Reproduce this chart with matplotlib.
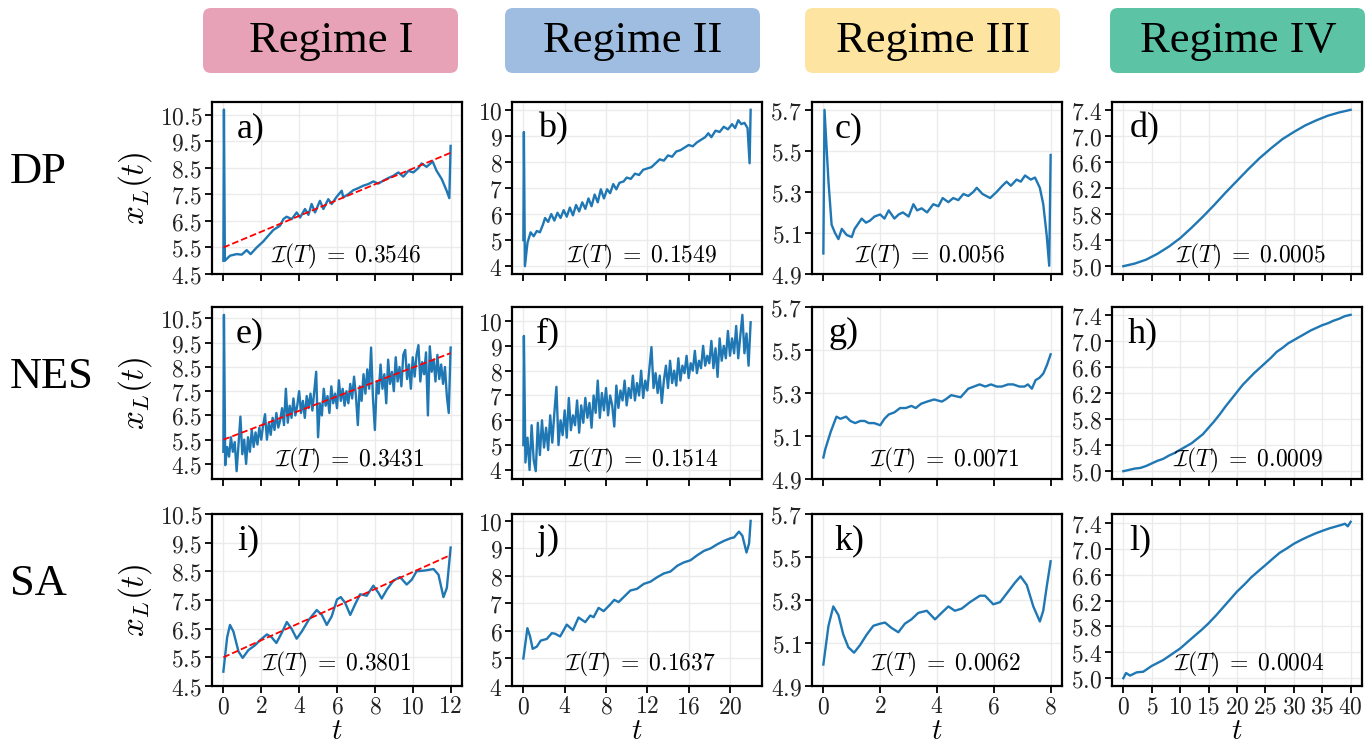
import matplotlib.pyplot as plt
import numpy as np
from matplotlib.patches import FancyBboxPatch
from matplotlib.ticker import FuncFormatter

plt.rcParams['mathtext.fontset'] = 'cm'

# ---- labels ----
regimes = ['Regime I', 'Regime II', 'Regime III', 'Regime IV']
regime_colors = ['#e8a2b8', '#9fbde0', '#fde4a0', '#5cc4a4']
methods = ['DP', 'NES', 'SA']
letters = [['a)', 'b)', 'c)', 'd)'], ['e)', 'f)', 'g)', 'h)'], ['i)', 'j)', 'k)', 'l)']]
scores = [['0.3546', '0.1549', '0.0056', '0.0005'],
          ['0.3431', '0.1514', '0.0071', '0.0009'],
          ['0.3801', '0.1637', '0.0062', '0.0004']]

col_xticks = [[0, 2, 4, 6, 8, 10, 12], [0, 4, 8, 12, 16, 20], [0, 2, 4, 6, 8],
              [0, 5, 10, 15, 20, 25, 30, 35, 40]]
col_yticks = [[4.5, 5.5, 6.5, 7.5, 8.5, 9.5, 10.5], [4, 5, 6, 7, 8, 9, 10],
              [4.9, 5.1, 5.3, 5.5, 5.7], [5.0, 5.4, 5.8, 6.2, 6.6, 7.0, 7.4]]
col_yfmt = ['{:.1f}', '{:.0f}', '{:.1f}', '{:.1f}']

# linear fit shown in regime I (intercept, slope)
fit_intercept = 5.5
fit_slope = 0.2975

# ---- DP ----
a_t = [0, 0.03, 0.08, 0.35, 0.7, 0.97, 1.23, 1.44, 1.76, 2.11, 2.29, 2.64, 2.99,
       3.17, 3.34, 3.61, 3.87, 4.05, 4.31, 4.49, 4.66, 4.84, 5.1, 5.28, 5.54, 5.72,
       5.98, 6.25, 6.33, 6.6, 6.86, 7.13, 7.39, 7.65, 7.92, 8.18, 8.45, 8.71, 8.97,
       9.24, 9.5, 9.77, 10.03, 10.29, 10.47, 10.73, 11.05, 11.26, 11.53, 11.79, 11.93, 12.0]
a_x = [5.0, 10.7, 5.0, 5.19, 5.25, 5.23, 5.4, 5.25, 5.5, 5.73, 5.88, 6.16, 6.32,
       6.57, 6.66, 6.57, 6.82, 6.63, 6.95, 6.73, 7.14, 6.82, 7.26, 6.95, 7.32, 7.14,
       7.41, 7.64, 7.39, 7.51, 7.66, 7.74, 7.83, 7.89, 7.99, 7.91, 8.02, 8.12, 8.2,
       8.33, 8.17, 8.39, 8.33, 8.49, 8.67, 8.54, 8.74, 8.39, 8.08, 7.64, 7.36, 9.33]

b_t = [0, 0.05, 0.15, 0.4, 0.7, 1.0, 1.3, 1.6, 1.9, 2.1, 2.4, 2.7, 3.0, 3.3, 3.6, 3.9,
       4.2, 4.5, 4.8, 5.1, 5.4, 5.7, 6.0, 6.3, 6.6, 6.9, 7.2, 7.5, 7.8, 8.1, 8.4, 8.7,
       9.0, 9.3, 9.7, 10.0, 10.4, 10.8, 11.2, 11.6, 12.0, 12.4, 12.8, 13.2, 13.6, 14.0,
       14.4, 14.8, 15.2, 15.6, 16.0, 16.4, 16.8, 17.2, 17.6, 17.9, 18.2, 18.6, 19.0,
       19.4, 19.8, 20.2, 20.5, 20.8, 21.1, 21.4, 21.7, 21.9, 22.0]
b_x = [5.0, 9.15, 4.0, 4.9, 5.3, 5.15, 5.35, 5.3, 5.6, 5.85, 5.7, 6.0, 5.75, 6.05, 5.85,
       6.15, 5.9, 6.25, 5.95, 6.35, 6.1, 6.45, 6.2, 6.6, 6.3, 6.75, 6.45, 6.95, 6.6, 6.95,
       6.8, 7.15, 6.95, 7.2, 7.25, 7.4, 7.35, 7.55, 7.5, 7.7, 7.75, 7.8, 7.95, 8.1, 8.05,
       8.25, 8.2, 8.4, 8.45, 8.55, 8.65, 8.6, 8.75, 8.85, 8.95, 9.1, 8.95, 9.2, 9.15,
       9.35, 9.25, 9.45, 9.3, 9.6, 9.45, 9.5, 9.3, 7.95, 10.0]

c_t = [0, 0.04, 0.18, 0.29, 0.41, 0.53, 0.65, 0.82, 1.0, 1.1, 1.35, 1.5, 1.64, 1.8, 2.0,
       2.15, 2.3, 2.5, 2.65, 2.8, 3.0, 3.17, 3.3, 3.46, 3.65, 3.87, 4.05, 4.2, 4.4, 4.57,
       4.75, 4.93, 5.1, 5.28, 5.4, 5.6, 5.87, 6.1, 6.3, 6.45, 6.6, 6.8, 6.95, 7.1, 7.3,
       7.45, 7.62, 7.74, 7.86, 7.95, 8.0]
c_x = [5.0, 5.7, 5.35, 5.14, 5.1, 5.07, 5.12, 5.09, 5.08, 5.12, 5.17, 5.15, 5.16, 5.18,
       5.19, 5.17, 5.21, 5.17, 5.19, 5.2, 5.18, 5.24, 5.21, 5.22, 5.2, 5.24, 5.23, 5.27,
       5.25, 5.27, 5.26, 5.29, 5.28, 5.3, 5.32, 5.29, 5.27, 5.3, 5.33, 5.35, 5.33, 5.36,
       5.35, 5.38, 5.36, 5.37, 5.32, 5.24, 5.09, 4.94, 5.48]

d_t = [0, 2, 4, 6, 8, 10, 12, 14, 16, 18, 20, 22, 24, 26, 28, 30, 32, 34, 36, 38, 40]
d_x = [5.0, 5.04, 5.1, 5.19, 5.3, 5.43, 5.59, 5.76, 5.94, 6.13, 6.31, 6.49, 6.66,
       6.81, 6.95, 7.06, 7.16, 7.24, 7.31, 7.36, 7.4]

# ---- NES ----
e_head_t = [0.0, 0.03]
e_head_x = [5.0, 10.65]
e_x = [4.45, 5.2, 4.8, 5.6, 5.0, 5.4, 4.2, 5.3, 6.45, 4.9,
       5.5, 4.5, 5.6, 5.0, 5.9, 5.2, 5.8, 5.3, 6.0, 5.5,
       6.1, 6.55, 5.5, 6.2, 5.7, 6.4, 5.9, 6.6, 6.0, 6.3,
       6.8, 6.1, 7.6, 6.2, 6.9, 6.4, 7.2, 6.5, 6.9, 7.5,
       6.6, 7.1, 6.4, 7.3, 6.8, 7.4, 6.7, 7.5, 8.3, 5.6,
       7.0, 6.5, 7.6, 6.9, 7.3, 6.6, 7.7, 7.0, 7.4, 6.8,
       7.95, 7.1, 7.6, 6.9, 7.5, 7.0, 7.8, 7.2, 8.1, 7.3,
       6.1, 7.7, 7.1, 8.2, 7.4, 8.4, 7.6, 9.3, 7.2, 5.9,
       7.9, 7.4, 8.6, 7.6, 8.2, 7.0, 8.8, 7.8, 8.3, 7.5,
       8.9, 7.9, 8.5, 7.7, 9.0, 9.2, 8.0, 8.6, 7.6, 8.9,
       8.1, 9.0, 9.4, 7.9, 8.7, 8.2, 9.1, 6.5, 9.35, 8.3,
       8.8, 7.9, 9.0, 8.0, 8.6, 7.8, 8.5, 7.3, 6.6, 9.3]
e_t = np.concatenate([e_head_t, np.linspace(0.1, 12.0, len(e_x))])
e_x = e_head_x + e_x

f_head_t = [0.0, 0.05]
f_head_x = [5.0, 9.4]
f_x = [4.3, 5.3, 4.0, 5.8, 4.4, 3.95, 5.9, 4.6, 6.0, 4.9,
       5.7, 4.8, 6.2, 5.1, 6.3, 7.35, 5.0, 6.0, 5.4, 6.4,
       5.3, 6.9, 5.6, 6.2, 5.8, 6.8, 5.5, 6.6, 5.9, 6.9,
       6.1, 6.7, 5.7, 7.0, 6.3, 7.6, 6.1, 7.1, 6.4, 7.3,
       6.2, 7.0, 6.6, 5.75, 7.4, 6.5, 7.2, 6.8, 7.6, 6.6,
       7.3, 6.9, 7.8, 6.8, 7.5, 7.0, 8.0, 6.9, 7.6, 7.2,
       8.1, 8.95, 7.3, 7.9, 7.1, 7.8, 6.7, 7.6, 8.2, 7.3,
       8.4, 7.5, 8.0, 7.4, 8.5, 7.6, 8.2, 7.9, 8.6, 7.7,
       8.3, 8.0, 8.8, 7.9, 8.4, 8.1, 9.0, 8.2, 8.6, 8.3,
       9.2, 8.1, 8.9, 7.75, 9.3, 8.4, 9.0, 8.5, 9.6, 8.6,
       9.3, 8.7, 9.8, 8.5, 9.4, 10.25, 8.7, 9.5, 8.2, 9.95]
f_t = np.concatenate([f_head_t, np.linspace(0.2, 22.0, len(f_x))])
f_x = f_head_x + f_x

g_t = [0, 0.07, 0.26, 0.46, 0.6, 0.8, 0.95, 1.12, 1.3, 1.45, 1.6, 1.79, 2.0, 2.15, 2.3,
       2.5, 2.7, 2.9, 3.1, 3.25, 3.44, 3.65, 3.9, 4.17, 4.3, 4.5, 4.83, 5.1, 5.3, 5.5,
       5.7, 5.9, 6.1, 6.28, 6.5, 6.68, 6.9, 7.08, 7.2, 7.34, 7.47, 7.6, 7.74, 7.87, 8.0]
g_x = [5.0, 5.04, 5.12, 5.19, 5.18, 5.19, 5.17, 5.16, 5.17, 5.17, 5.16, 5.16, 5.15,
       5.18, 5.2, 5.21, 5.23, 5.23, 5.24, 5.23, 5.25, 5.26, 5.27, 5.26, 5.27, 5.29,
       5.28, 5.32, 5.33, 5.34, 5.33, 5.34, 5.33, 5.33, 5.34, 5.34, 5.33, 5.33, 5.34,
       5.32, 5.36, 5.37, 5.39, 5.43, 5.48]

h_t = list(range(41))
h_x = [5.0, 5.02, 5.04, 5.05, 5.08, 5.12, 5.16, 5.19, 5.24, 5.28, 5.33, 5.38, 5.43,
       5.5, 5.57, 5.67, 5.77, 5.88, 6.0, 6.11, 6.22, 6.33, 6.42, 6.51, 6.59, 6.67,
       6.75, 6.84, 6.9, 6.97, 7.02, 7.07, 7.12, 7.17, 7.21, 7.25, 7.28, 7.32, 7.35,
       7.39, 7.41]

# ---- SA ----
i_t = [0, 0.2, 0.35, 0.53, 0.8, 1.02, 1.32, 1.67, 1.94, 2.3, 2.55, 2.8, 3.08, 3.35,
       3.6, 3.87, 4.14, 4.5, 4.93, 5.2, 5.46, 5.72, 6.0, 6.2, 6.43, 6.7, 6.95, 7.22,
       7.57, 7.92, 8.19, 8.36, 8.63, 8.98, 9.33, 9.68, 9.95, 10.2, 10.65, 11.1, 11.36,
       11.62, 11.8, 12.0]
i_x = [5.0, 6.2, 6.63, 6.4, 5.7, 5.48, 5.75, 5.92, 6.1, 6.3, 6.2, 6.0, 6.35, 6.73,
       6.5, 6.15, 6.4, 6.8, 7.15, 6.98, 6.63, 6.93, 7.52, 7.6, 7.4, 6.98, 7.34, 7.7,
       7.65, 8.0, 7.75, 7.55, 7.86, 8.18, 8.3, 8.04, 8.21, 8.5, 8.53, 8.58, 8.38, 7.6,
       7.92, 9.33]

j_t = [0, 0.39, 0.65, 0.9, 1.3, 1.68, 2.27, 2.75, 3.07, 3.56, 4.2, 4.8, 5.34, 5.99,
       6.47, 6.8, 7.28, 7.77, 8.4, 8.8, 9.22, 9.87, 10.36, 11.0, 11.65, 12.3, 12.94,
       13.6, 14.24, 14.9, 15.53, 16.18, 16.83, 17.48, 18.12, 18.77, 19.4, 20.06, 20.4,
       20.87, 21.2, 21.6, 21.85, 22.0]
j_x = [5.0, 6.1, 5.8, 5.35, 5.43, 5.65, 5.71, 5.92, 5.9, 5.8, 6.23, 6.03, 6.49, 6.32,
       6.56, 6.5, 6.84, 6.72, 6.96, 7.13, 7.05, 7.29, 7.47, 7.53, 7.71, 7.79, 7.95,
       8.09, 8.16, 8.37, 8.49, 8.57, 8.75, 8.91, 9.0, 9.15, 9.27, 9.37, 9.4, 9.61,
       9.46, 8.85, 9.18, 10.0]

k_t = [0, 0.18, 0.35, 0.53, 0.7, 0.88, 1.08, 1.29, 1.53, 1.76, 2.0, 2.17, 2.4, 2.64,
       2.87, 3.1, 3.34, 3.64, 3.93, 4.16, 4.4, 4.63, 4.87, 5.16, 5.51, 5.69, 5.98,
       6.22, 6.51, 6.74, 6.94, 7.16, 7.39, 7.62, 7.74, 7.86, 8.0]
k_x = [5.0, 5.18, 5.27, 5.23, 5.14, 5.08, 5.055, 5.09, 5.14, 5.18, 5.19, 5.195, 5.17,
       5.15, 5.19, 5.21, 5.24, 5.25, 5.21, 5.24, 5.27, 5.25, 5.26, 5.29, 5.32, 5.32,
       5.28, 5.29, 5.34, 5.38, 5.41, 5.37, 5.27, 5.2, 5.25, 5.36, 5.48]

l_t = [0, 0.47, 1.17, 2.34, 3.5, 5, 7, 8.5, 10, 11.3, 12.6, 13.8, 15, 16.3, 17.6, 18.8,
       20, 21.3, 22.5, 23.8, 25, 26.3, 27.5, 28.8, 30, 31.3, 32.5, 33.8, 35, 36.3, 37.5,
       38.3, 39, 39.5, 40]
l_x = [5.0, 5.08, 5.04, 5.09, 5.1, 5.19, 5.28, 5.37, 5.46, 5.56, 5.66, 5.75, 5.85,
       5.97, 6.1, 6.22, 6.34, 6.45, 6.56, 6.66, 6.75, 6.85, 6.94, 7.01, 7.08, 7.14,
       7.19, 7.24, 7.28, 7.32, 7.35, 7.37, 7.39, 7.35, 7.42]

series = [[(a_t, a_x), (b_t, b_x), (c_t, c_x), (d_t, d_x)],
          [(e_t, e_x), (f_t, f_x), (g_t, g_x), (h_t, h_x)],
          [(i_t, i_x), (j_t, j_x), (k_t, k_x), (l_t, l_x)]]

# layout in pixels (figure is 1372 x 746)
W, H = 1372, 746
col_left = [212, 512, 812, 1112]
row_top = [102, 307, 514]
ax_w, ax_h = 250, 172
# annotation x-position (axes fraction) and y
score_x = [[0.536, 0.52, 0.472, 0.556], [0.552, 0.524, 0.532, 0.544], [0.5, 0.512, 0.536, 0.548]]
score_y = [0.1, 0.105, 0.128]
letter_x = [[0.1, 0.105, 0.09, 0.07], [0.096, 0.096, 0.064, 0.064], [0.1, 0.1, 0.09, 0.07]]

fig = plt.figure(figsize=(13.72, 7.46), dpi=100)

# background layer in pixel units for header boxes and row names
bg = fig.add_axes([0, 0, 1, 1])
bg.set_xlim(0, W)
bg.set_ylim(H, 0)
bg.axis('off')
box_left = [203, 505, 805, 1110]
for k in range(4):
    bg.add_patch(FancyBboxPatch((box_left[k], 8), 255, 65,
                                boxstyle='round,pad=0,rounding_size=8',
                                fc=regime_colors[k], ec='none'))
    bg.text(box_left[k] + 128, 41, regimes[k], ha='center', va='center',
            fontsize=32, family='Liberation Serif')
for r, name in enumerate(methods):
    bg.text(10, row_top[r] + 70, name, ha='left', va='center', fontsize=32,
            family='Liberation Serif')

for r in range(3):
    for c in range(4):
        left = col_left[c] / W
        bottom = 1 - (row_top[r] + ax_h) / H
        ax = fig.add_axes([left, bottom, ax_w / W, ax_h / H])
        t, x = series[r][c]
        ax.plot(t, x, color='#1f77b4', lw=1.7, zorder=3)
        if c == 0:
            tt = np.array([0, 12])
            ax.plot(tt, fit_intercept + fit_slope * tt, 'r--', lw=1.3, zorder=4)
        ax.set_xticks(col_xticks[c])
        ax.set_yticks(col_yticks[c])
        fmt = col_yfmt[c]
        ax.yaxis.set_major_formatter(FuncFormatter(lambda v, p, fmt=fmt: '$' + fmt.format(v) + '$'))
        ax.xaxis.set_major_formatter(FuncFormatter(lambda v, p: '$%d$' % v))
        ax.grid(True, color='#ebebeb', lw=1.0, zorder=0)
        ax.set_axisbelow(True)
        for s in ax.spines.values():
            s.set_linewidth(1.6)
        ax.tick_params(direction='out', length=5, width=1.3, labelsize=17,
                       labelcolor='#222222', pad=2)
        ax.tick_params(axis='x', pad=1)
        if r < 2:
            ax.tick_params(labelbottom=False)
        else:
            ax.set_xlabel('$t$', fontsize=21)
            ax.xaxis.set_label_coords(0.5, -0.178)
        if c == 0:
            ax.set_ylabel('$x_L(t)$', fontsize=24)
            ax.yaxis.set_label_coords(-0.23, 0.5)
        ax.text(letter_x[r][c], 0.94, letters[r][c], transform=ax.transAxes,
                ha='left', va='top', fontsize=26, family='Liberation Serif')
        ax.text(score_x[r][c], score_y[r],
                r'$\mathcal{I}(T)\;=\;' + scores[r][c] + '$',
                transform=ax.transAxes, ha='center', va='center', fontsize=17)

fig.savefig('out.png', dpi=100)
